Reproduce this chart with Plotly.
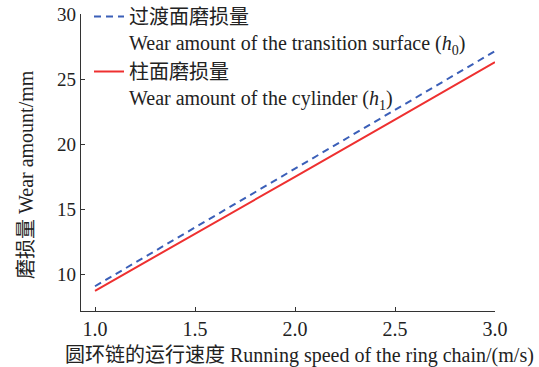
import plotly.graph_objects as go

speed = [1.0, 1.5, 2.0, 2.5, 3.0]
wear_transition = [9.1, 13.6, 18.1, 22.6, 27.15]
wear_cylinder = [8.75, 13.1, 17.5, 21.9, 26.3]
x_ticks = [1.0, 1.5, 2.0, 2.5, 3.0]
x_ticktext = ["1.0", "1.5", "2.0", "2.5", "3.0"]
y_ticks = [10, 15, 20, 25, 30]

name_h0 = "过渡面磨损量<br>Wear amount of the transition surface (<i>h</i><sub>0</sub>)"
name_h1 = "柱面磨损量<br>Wear amount of the cylinder (<i>h</i><sub>1</sub>)"
x_title = "圆环链的运行速度 Running speed of the ring chain/(m/s)"
y_title = "磨损量 Wear amount/mm"

FONT = "Liberation Serif, Times New Roman, Noto Sans CJK SC, serif"
W, H = 539, 367
L, R, T, B = 81, 44, 14, 56
pw, ph = W - L - R, H - T - B

def px_x(px):
    return (px - L) / pw

def px_y(py):
    return (H - B - py) / ph

fig = go.Figure()
fig.add_trace(go.Scatter(x=speed, y=wear_transition, mode="lines", name=name_h0,
                         line=dict(color="#3b5fb8", width=2, dash="7px,5px")))
fig.add_trace(go.Scatter(x=speed, y=wear_cylinder, mode="lines", name=name_h1,
                         line=dict(color="#ee3030", width=2)))

fig.update_layout(
    width=W, height=H,
    margin=dict(l=L, r=R, t=T, b=B, autoexpand=False),
    paper_bgcolor="white", plot_bgcolor="white",
    font=dict(family=FONT, size=20, color="#222"),
    showlegend=True,
    legend=dict(x=px_x(89), y=px_y(-3), xanchor="left", yanchor="top",
                bgcolor="rgba(0,0,0,0)", font=dict(size=20, family=FONT, color="#222"),
                valign="top", tracegroupgap=0, itemwidth=30),
    xaxis=dict(range=[0.93, 3.0], tickvals=x_ticks, ticktext=x_ticktext,
               showline=True, linecolor="#333", linewidth=1.2,
               ticks="inside", ticklen=4, tickcolor="#333",
               showgrid=False, zeroline=False, tickfont=dict(size=20)),
    yaxis=dict(range=[7.2, 30], tickvals=y_ticks,
               showline=True, linecolor="#333", linewidth=1.2,
               ticks="inside", ticklen=4, tickcolor="#333",
               showgrid=False, zeroline=False, tickfont=dict(size=19)),
    annotations=[
        dict(text=x_title, xref="paper", yref="paper", x=px_x(299), y=px_y(355),
             xanchor="center", yanchor="middle", showarrow=False,
             font=dict(size=20, family=FONT, color="#222")),
        dict(text=y_title, xref="paper", yref="paper", x=px_x(26), y=px_y(175),
             xanchor="center", yanchor="middle", showarrow=False, textangle=-90,
             font=dict(size=20, family=FONT, color="#222")),
    ],
)

fig.write_html("out.html")
